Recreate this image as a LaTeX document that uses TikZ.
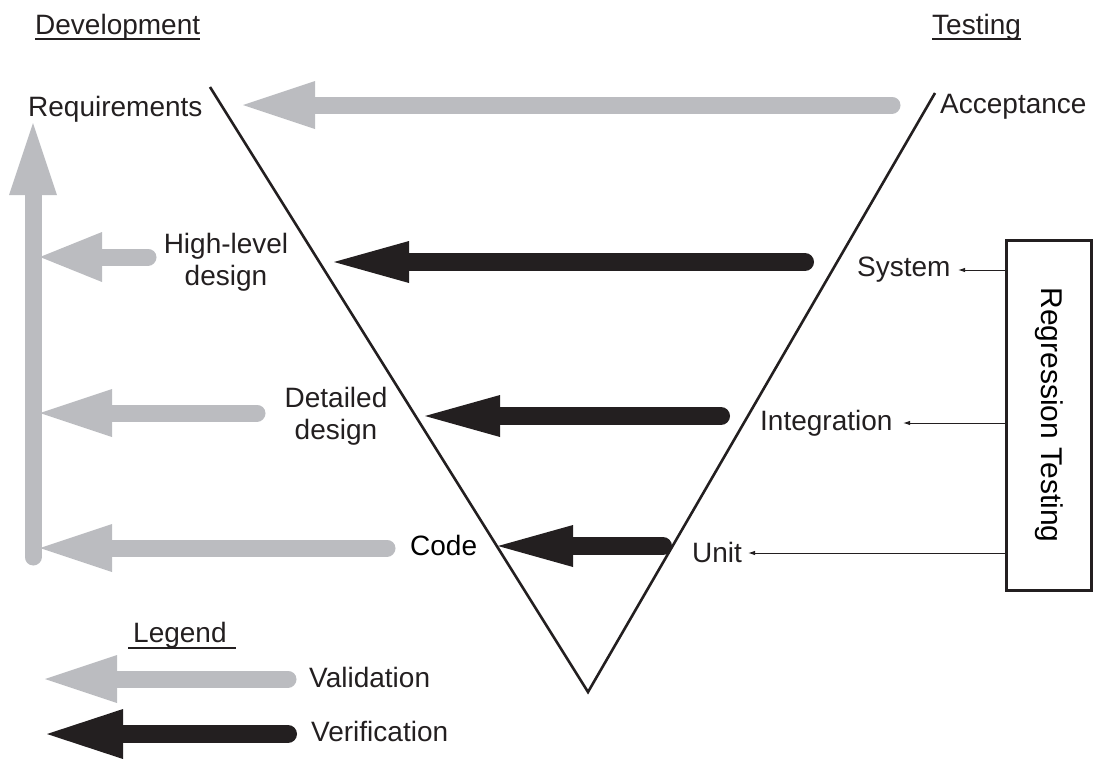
\documentclass[tikz,border=0pt]{standalone}
\usepackage{fontspec}
\setmainfont{Liberation Sans}
\usetikzlibrary{arrows.meta}
\definecolor{ink}{HTML}{231F20}
\definecolor{valgray}{HTML}{BBBCC0}

\begin{document}
\begin{tikzpicture}[x=1pt,y=-1pt,
  lbl/.style={inner sep=0pt, text=ink, font=\fontsize{28}{32}\selectfont},
  validarrow/.style={draw=valgray, line width=17pt, line cap=round,
    -{Triangle[length=72pt,width=48pt,line width=0pt]}},
  verifarrow/.style={draw=ink, line width=18pt, line cap=round,
    -{Triangle[length=75pt,width=42pt,line width=0pt]}},
  vline/.style={draw=ink, line width=2.6pt, line join=miter},
  regarrow/.style={draw=ink, line width=1pt, -{Latex[length=7pt,width=4.5pt]}},
  uline/.style={draw=ink, line width=1.8pt}]

\useasboundingbox (0,0) rectangle (1094,758);

% headings
\node[lbl, anchor=base west] (dev)  at (35,34)  {Development};
\node[lbl, anchor=base west] (test) at (932,34) {Testing};
\draw[uline] ([yshift=-5pt]dev.base west)  -- ([yshift=-5pt]dev.base east);
\draw[uline] ([yshift=-5pt]test.base west) -- ([yshift=-5pt]test.base east);

% development and testing stages
\node[lbl, anchor=base west] (req)   at (28,116)  {Requirements};
\node[lbl, anchor=base west] (acc)   at (940,113) {Acceptance};
\node[lbl, align=center]     (hld)   at (226,262) {High-level\\design};
\node[lbl, align=center]     (dd)    at (336,416) {Detailed\\design};
\node[lbl, anchor=base west, text=black] (code) at (410,555) {Code};
\node[lbl, anchor=base west] (sys)   at (857,276) {System};
\node[lbl, anchor=base west] (integ) at (760,430) {Integration};
\node[lbl, anchor=base west] (unit)  at (692,562) {Unit};

% the V
\coordinate (vL) at (210,87);
\coordinate (vB) at (588,692);
\coordinate (vR) at (935,93);
\draw[vline] (vL) -- (vB) -- (vR);

% validation arrows
\coordinate (accS) at (892,105);  \coordinate (reqT) at (243,105);
\coordinate (upS)  at (33,557);   \coordinate (upT)  at (33,123);
\coordinate (hlS)  at (148,257);  \coordinate (hlT)  at (40,257);
\coordinate (ddS)  at (257,413);  \coordinate (ddT)  at (40,413);
\coordinate (cdS)  at (387,548);  \coordinate (cdT)  at (40,548);
\draw[validarrow] (accS) -- (reqT);
\draw[validarrow] (upS) -- (upT);
\draw[validarrow, -{Triangle[length=62pt,width=50pt,line width=0pt]}] (hlS) -- (hlT);
\draw[validarrow] (ddS) -- (ddT);
\draw[validarrow] (cdS) -- (cdT);

% verification arrows
\coordinate (sysS) at (805,262); \coordinate (sysT) at (334,262);
\coordinate (intS) at (721,416); \coordinate (intT) at (425,416);
\coordinate (unS)  at (663,546); \coordinate (unT)  at (498,546);
\draw[verifarrow] (sysS) -- (sysT);
\draw[verifarrow] (intS) -- (intT);
\draw[verifarrow] (unS) -- (unT);

% regression testing
\node[draw=ink, line width=3pt, rotate=-90, minimum width=350pt,
      minimum height=85pt, inner sep=0pt, text=black,
      font=\fontsize{30}{34}\selectfont] (reg) at (1049,415) {Regression Testing};
\coordinate (r1) at (1005,270); \coordinate (t1) at (958,270);
\coordinate (r2) at (1005,423); \coordinate (t2) at (903,423);
\coordinate (r3) at (1005,553); \coordinate (t3) at (748,553);
\draw[regarrow] (r1) -- (t1);
\draw[regarrow] (r2) -- (t2);
\draw[regarrow] (r3) -- (t3);

% legend
\node[lbl, anchor=base west] (leg) at (133,642) {Legend};
\draw[uline] ([xshift=-5pt,yshift=-6pt]leg.base west) -- ([xshift=9pt,yshift=-6pt]leg.base east);
\node[lbl, anchor=base west] (val) at (309,687) {Validation};
\node[lbl, anchor=base west] (ver) at (311,741) {Verification};
\coordinate (lvS) at (288,679); \coordinate (lvT) at (45,679);
\coordinate (lfS) at (288,734); \coordinate (lfT) at (47,734);
\draw[validarrow] (lvS) -- (lvT);
\draw[verifarrow, -{Triangle[length=76pt,width=50pt,line width=0pt]}] (lfS) -- (lfT);
\end{tikzpicture}
\end{document}
